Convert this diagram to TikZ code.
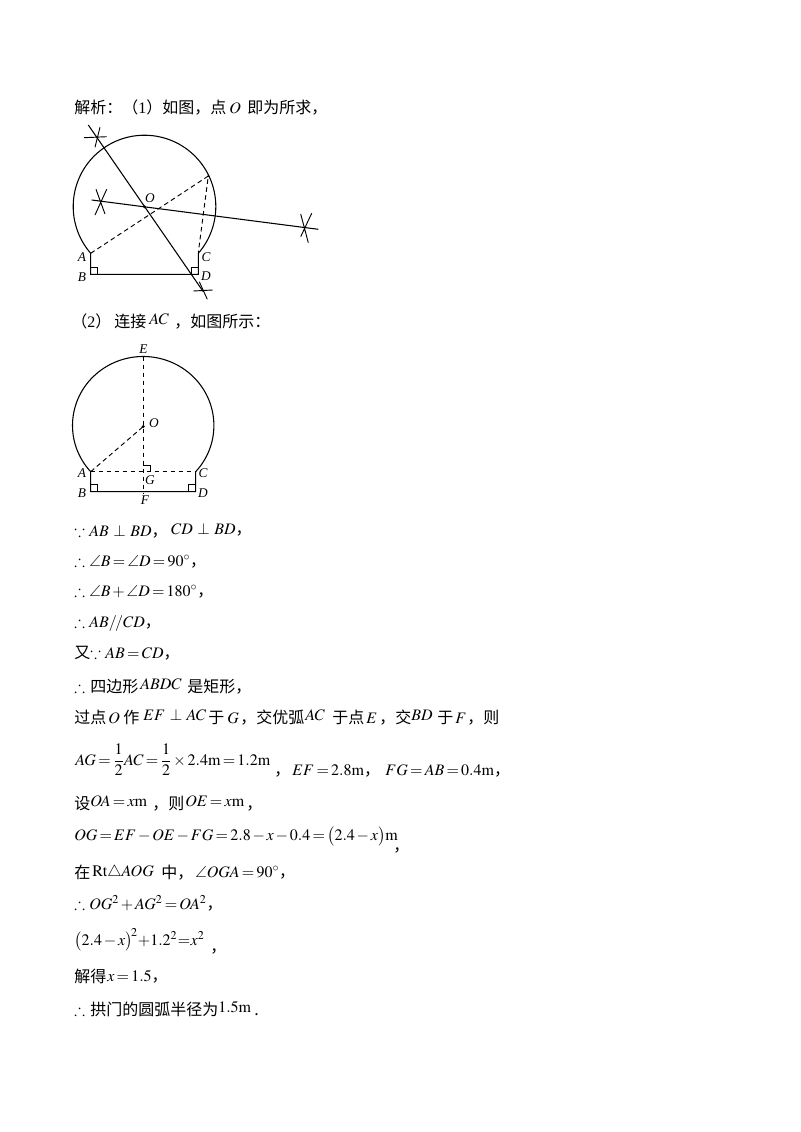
\documentclass[tikz,border=0pt]{standalone}
\usepackage{amsmath,amssymb}
\usepackage{mathptmx}
\usepackage[no-math]{fontspec}
\setmainfont{Liberation Serif}
\newfontfamily\cjk{Noto Sans CJK SC}
\thickmuskip=2.5mu
\medmuskip=2mu
\tikzset{
  txt/.style={anchor=base west, inner sep=0pt, font=\fontsize{12pt}{14pt}\selectfont},
  lbl/.style={inner sep=0pt, font=\fontsize{10pt}{12pt}\selectfont\itshape},
  arch/.style={line width=0.8pt},
  aux/.style={line width=0.7pt, dash pattern=on 3.5pt off 2.5pt},
  tick/.style={line width=0.7pt}
}
\newcommand{\zh}[1]{{\cjk #1}}
\begin{document}
\begin{tikzpicture}[x=0.75pt, y=-0.75pt]
    \useasboundingbox (0,0) rectangle (800,1132);
    % First figure
    \coordinate (A1) at (90.7,253.3);
    \coordinate (B1) at (90.7,274.3);
    \coordinate (D1) at (198.3,274.3);
    \coordinate (C1) at (198.3,252.7);
    \coordinate (O1) at (144.5,206.7);
    \coordinate (P1) at (208.3,176);
    \coordinate (T1) at (88.3,125);
    \coordinate (T2) at (203.3,291.7);
    \coordinate (S1) at (91.7,200);
    \coordinate (S2) at (318.3,229.3);
    \draw[arch] (A1) arc[start angle=139, end angle=401, radius=71.3] -- (D1) -- (B1) -- cycle;
    \draw[arch] (T1) -- (T2);
    \draw[arch] (S1) -- (S2);
    \draw[aux] (A1) -- (P1) -- (C1);
    \fill (O1) circle (1.6);
    \fill (P1) circle (1);
    % Right angle marks
    \draw[tick] (90.7,267.3) -| (97.7,274.3);
    \draw[tick] (198.3,267.3) -| (191.3,274.3);
    % Arc crossings
    \draw[tick] (84,137.7) -- (106.7,136.7) (100,127.3) -- (95,147.3);
    \draw[tick] (96,189.3) -- (105,214) (95,215) -- (106.7,189.3);
    \draw[tick] (300.7,214) -- (308.3,242.7) (311.7,213.3) -- (300.7,236.7);
    \draw[tick] (193.3,291) -- (212.7,290) (199.3,281.7) -- (207.3,299.3);
    % Labels of the first figure
    \node[lbl] (lA1) at (82,257) {A};
    \node[lbl] (lB1) at (82,277) {B};
    \node[lbl] (lC1) at (206,257) {C};
    \node[lbl] (lD1) at (206,276) {D};
    \node[lbl] (lO1) at (150,198) {O};
    % Second figure
    \coordinate (A2) at (90.7,471.7);
    \coordinate (B2) at (90.7,491.7);
    \coordinate (D2) at (195.7,491.7);
    \coordinate (C2) at (195.7,471.7);
    \coordinate (O2) at (143.3,426.5);
    \coordinate (E2) at (143.3,356.7);
    \coordinate (F2) at (143.3,493);
    \coordinate (G2) at (143.3,471.7);
    \draw[arch] (A2) arc[start angle=137.95, end angle=402.05, x radius=70.7, y radius=69] -- (D2) -- (B2) -- cycle;
    \draw[aux] (E2) -- (F2);
    \draw[aux] (A2) -- (O2);
    \draw[aux] (A2) -- (C2);
    \fill (O2) circle (1.6);
    % Right angle marks
    \draw[tick] (90.7,484.7) -| (97.7,491.7);
    \draw[tick] (195.7,484.7) -| (188.7,491.7);
    \draw[tick] (143.3,465) -| (150,471.7);
    % Labels of the second figure
    \node[lbl] (lA2) at (82,473) {A};
    \node[lbl] (lB2) at (82,493) {B};
    \node[lbl] (lC2) at (203,473) {C};
    \node[lbl] (lD2) at (203,493) {D};
    \node[lbl] (lE2) at (143.5,349) {E};
    \node[lbl] (lF2) at (145,500) {F};
    \node[lbl] (lG2) at (150,480) {G};
    \node[lbl] (lO2) at (154,423) {O};
    % Text lines
    \node[txt] (t1a) at (74,113.5) {\zh{解析：（}1\zh{）如图，点}};
    \node[txt] (t1c) at (229,113.5) {$O$};
    \node[txt] (t1d) at (247,113.5) {\zh{即为所求，}};
    \node[txt] (t2a) at (71,327) {\zh{（}2\zh{）}};
    \node[txt] (t2d) at (114,327) {\zh{连接}};
    \node[txt] (t2b) at (149,324) {$AC$};
    \node[txt] (t2c) at (174,327) {\zh{，如图所示：}};
    \node[txt] (t3a) at (74,536) {$\because\;AB\;\perp\;BD$\zh{，}};
    \node[txt] (t3b) at (171,534.5) {$CD\;\perp\;BD$\zh{，}};
    \node[txt] (t4) at (74,566) {$\therefore\;\angle B=\angle D=90^\circ$\zh{，}};
    \node[txt] (t5) at (74,596) {$\therefore\;\angle B+\angle D=180^\circ$\zh{，}};
    \node[txt] (t6) at (74,627) {$\therefore\;AB/\!/CD$\zh{，}};
    \node[txt] (t7) at (74,658) {\zh{又}$\because\;AB=CD$\zh{，}};
    \node[txt] (t8a) at (74,692) {$\therefore$};
    \node[txt] (t8d) at (90,692) {\zh{四边形}};
    \node[txt] (t8b) at (140,689) {$ABDC$};
    \node[txt] (t8c) at (187,692) {\zh{是矩形，}};
    \node[txt] (t9a) at (74,723) {\zh{过点}};
    \node[txt] (t9b) at (108,723) {$O$};
    \node[txt] (t9c) at (123,723) {\zh{作}};
    \node[txt] (t9d) at (143,720) {$EF\;\perp\;AC$};
    \node[txt] (t9e) at (208,723) {\zh{于}};
    \node[txt] (t9f) at (227,723) {$G$};
    \node[txt] (t9g) at (240,723) {\zh{，交优弧}};
    \node[txt] (t9h) at (305,720) {$AC$};
    \node[txt] (t9i) at (332,723) {\zh{于点}};
    \node[txt] (t9j) at (366,723) {$E$};
    \node[txt] (t9k) at (379,723) {\zh{，交}};
    \node[txt] (t9l) at (411,720) {$BD$};
    \node[txt] (t9m) at (437,723) {\zh{于}};
    \node[txt] (t9n) at (455,723) {$F$};
    \node[txt] (t9o) at (467,723) {\zh{，则}};
    \node[txt] (t10) at (75,765) {$AG=\dfrac{1}{2}AC=\dfrac{1}{2}\times2.4\mathrm{m}=1.2\mathrm{m}$};
    \node[txt] (t10c) at (274,775) {\zh{，}};
    \node[txt] (t11a) at (292,775) {$EF=2.8\mathrm{m}$\zh{，}};
    \node[txt] (t11b) at (385,775) {$FG=AB=0.4\mathrm{m}$\zh{，}};
    \node[txt] (t12a) at (74,809) {\zh{设}};
    \node[txt] (t12b) at (90,806) {$OA=x\mathrm{m}$};
    \node[txt] (t12c) at (152,809) {\zh{，则}};
    \node[txt] (t12d) at (185,806) {$OE=x\mathrm{m}$};
    \node[txt] (t12e) at (246,809) {\zh{，}};
    \node[txt] (t13) at (74,840) {$OG=EF-OE-FG=2.8-x-0.4=\bigl(2.4-x\bigr)\mathrm{m}$};
    \node[txt] (t13c) at (393,851) {\zh{，}};
    \node[txt] (t14a) at (74,878) {\zh{在}};
    \node[txt] (t14b) at (92,876) {$\mathrm{Rt}\triangle AOG$};
    \node[txt] (t14c) at (161,878) {\zh{中，}};
    \node[txt] (t14d) at (195,877) {$\angle OGA=90^\circ$\zh{，}};
    \node[txt] (t15) at (74,909) {$\therefore\;OG^2+AG^2=OA^2$\zh{，}};
    \node[txt] (t16) at (74,945) {$\bigl(2.4-x\bigr)^{\!2}\!+\!1.2^2\!=\!x^2$};
    \node[txt] (t16c) at (210,952) {\zh{，}};
    \node[txt] (t17a) at (74,982) {\zh{解得}};
    \node[txt] (t17b) at (107,981) {$x=1.5$\zh{，}};
    \node[txt] (t18a) at (74,1015) {$\therefore$};
    \node[txt] (t18d) at (90,1015) {\zh{拱门的圆弧半径为}};
    \node[txt] (t18b) at (218,1012) {$1.5\mathrm{m}$};
    \node[txt] (t18c) at (254,1015) {\zh{.}};
\end{tikzpicture}
\end{document}
